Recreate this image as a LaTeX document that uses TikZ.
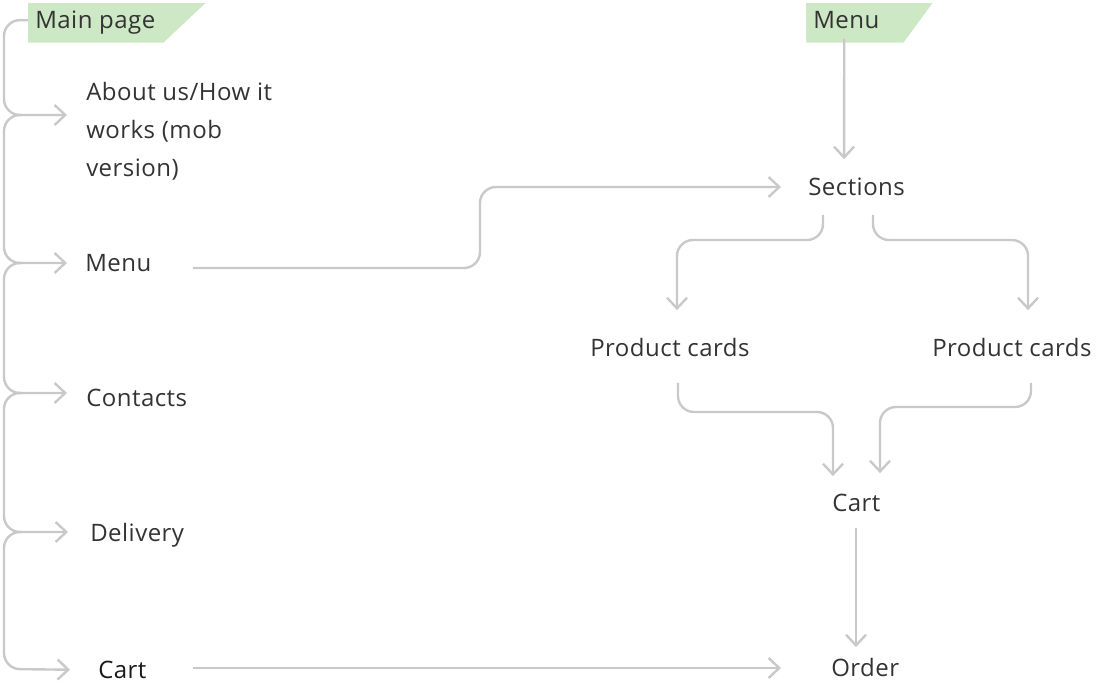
\documentclass[tikz,border=0pt]{standalone}
\usepackage{fontspec}
\setmainfont{Open Sans}[LetterSpace=2.0]
\usetikzlibrary{arrows.meta,backgrounds}
\definecolor{linegray}{HTML}{C9C9C9}
\definecolor{txt}{HTML}{333333}
\definecolor{tagfill}{HTML}{CCE8C4}
\begin{document}
\begin{tikzpicture}[x=0.75pt,y=-0.75pt,
  base/.style={inner sep=0pt, text=txt, font=\fontsize{18pt}{28.5pt}\selectfont},
  lbl/.style={base, anchor=west, text height=12.9pt, text depth=0pt},
  tag/.style={base, anchor=north west, inner xsep=5.25pt, inner ysep=0pt, minimum height=29.25pt, text height=12.9pt, text depth=3.75pt},
  conn/.style={draw=linegray, line width=1.8pt, rounded corners=12pt, -{Straight Barb[length=8pt,width=15pt]}},
]
\useasboundingbox (0,0) rectangle (1108,689);

% tags
\node[tag] (mainpage) at (28,3) {\makebox[90.75pt][l]{Main page}};
\node[tag] (menutag) at (806,3) {\makebox[62.25pt][l]{Menu}};
\begin{scope}[on background layer]
\fill[tagfill] (mainpage.north west) -- ([xshift=31.5pt]mainpage.north east) -- (mainpage.south east) -- (mainpage.south west) -- cycle;
\fill[tagfill] (menutag.north west) -- ([xshift=21.75pt]menutag.north east) -- (menutag.south east) -- (menutag.south west) -- cycle;
\end{scope}

% left column
\node[base, anchor=north west, align=left] (about) at (86,82) {About us/How it\\works (mob\\version)};
\node[lbl] (menu) at (85,263) {Menu};
\node[lbl] (contacts) at (86,398) {Contacts};
\node[lbl] (delivery) at (90,533) {Delivery};
\node[lbl, text=black!90] (cartl) at (98,670) {Cart};

% right part
\node[lbl] (sections) at (808,187) {Sections};
\node[lbl] (pcl) at (590,348) {Product cards};
\node[lbl] (pcr) at (932,348) {Product cards};
\node[lbl] (cartr) at (832,503) {Cart};
\node[lbl] (order) at (831,668) {Order};

% brace junctions
\coordinate (j1) at (22,115);
\coordinate (j2) at (22,263);
\coordinate (j3) at (22,393);
\coordinate (j4) at (22,532);

\draw[conn, shorten >=14.25pt] ([yshift=1.9pt]mainpage.west) -- (4,20) -- (4,115) -- (about.west |- j1);
\draw[conn, shorten >=13.5pt] (j1) -- (4,115) -- (4,263) -- (menu.west);
\draw[conn, shorten >=14.25pt] (j2) -- (4,263) -- (4,393) -- (contacts.west |- j3);
\draw[conn, shorten >=16.5pt] (j3) -- (4,393) -- (4,532) -- (delivery.west |- j4);
\draw[conn, shorten >=21pt] (j4) -- (4,532) -- (4,669) -- (cartl.west);

% menu -> sections
\draw[conn, shorten <=31pt, shorten >=20.25pt] ([yshift=-3.75pt]menu.east) -- (480,268) -- (480,187) -- (sections.west);
\draw[conn, shorten >=14.25pt] ([xshift=-7.875pt,yshift=3pt]menutag.south) -- (844,0 |- sections.north);

% sections -> product cards
\draw[conn, shorten <=14.25pt, shorten >=21.75pt] (823,0 |- sections.south) -- (823,240) -- (677,240) -- (677,0 |- pcl.north);
\draw[conn, shorten <=14.25pt, shorten >=21.75pt] (873,0 |- sections.south) -- (873,240) -- (1028,240) -- (1028,0 |- pcr.north);

% product cards -> cart
\draw[conn, shorten <=19.5pt, shorten >=13.5pt] (678,0 |- pcl.south) -- (678,412) -- (833,412) -- (833,0 |- cartr.north);
\draw[conn, shorten <=19.5pt, shorten >=15.75pt] (1031,0 |- pcr.south) -- (1031,407) -- (880,407) -- (880,0 |- cartr.north);

% cart -> order
\draw[conn, shorten <=12pt, shorten >=9pt] (856,0 |- cartr.south) -- (856,0 |- order.north);
\draw[conn, shorten <=35pt, shorten >=37.5pt] (cartl.east |- order.west) -- (order.west);
\end{tikzpicture}
\end{document}
